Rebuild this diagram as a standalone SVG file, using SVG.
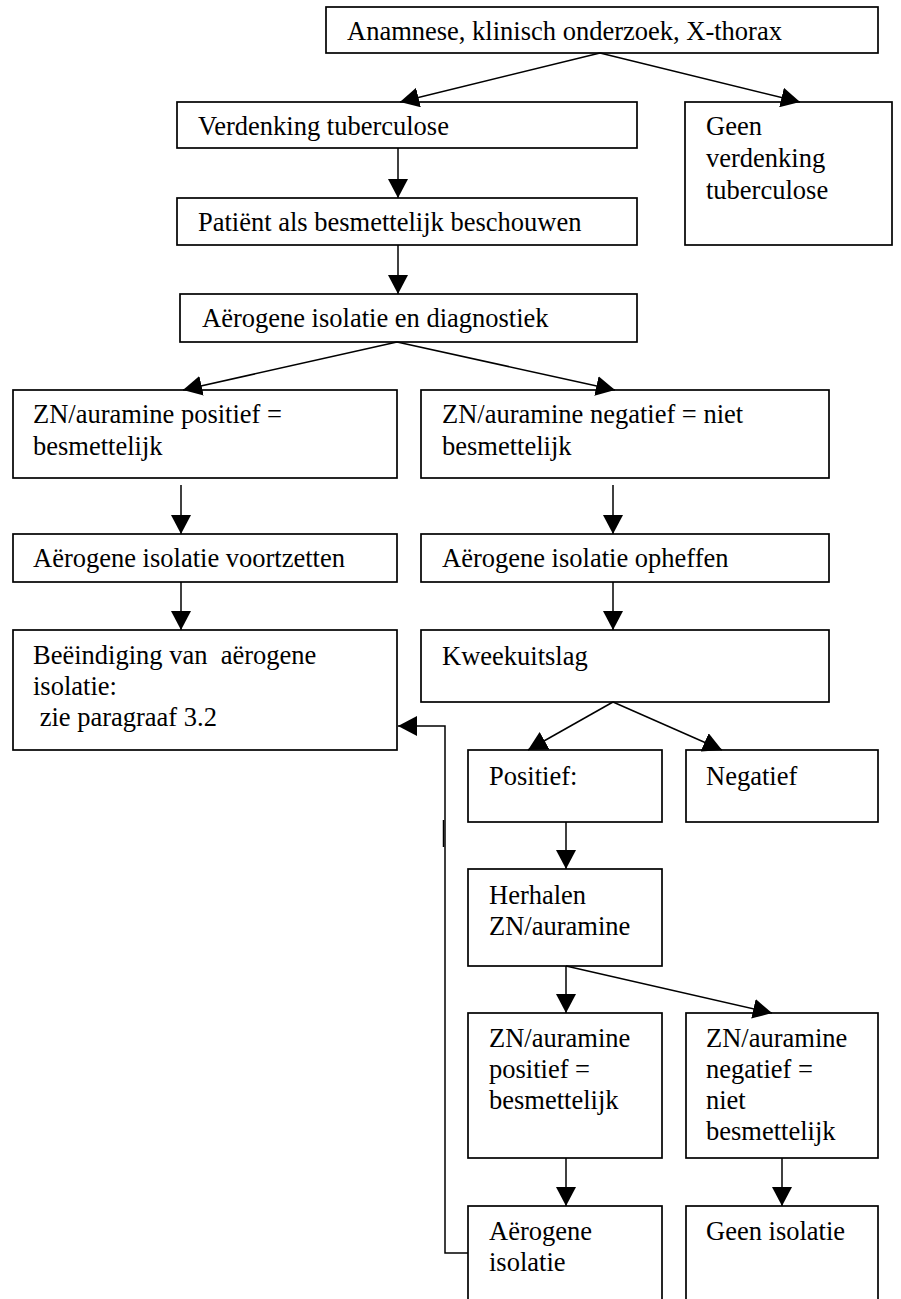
<svg xmlns="http://www.w3.org/2000/svg" width="901" height="1299" viewBox="0 0 901 1299">
<style>
rect{fill:#fff;stroke:#000;stroke-width:1.7}
text{font-family:"Liberation Serif","Times New Roman",serif;font-size:26.5px;fill:#000}
.c path{fill:none;stroke:#000;stroke-width:1.5}
</style>
<defs>
<marker id="ah" markerUnits="userSpaceOnUse" markerWidth="19" markerHeight="20" refX="19" refY="10" orient="auto"><path d="M0,0 L19,10 L0,20 z" fill="#000"/></marker>
</defs>
<rect x="0" y="0" width="901" height="1299" style="stroke:none"/>
<g id="n1"><rect x="326" y="7" width="552" height="46"/><text x="347" y="40">Anamnese, klinisch onderzoek, X-thorax</text></g>
<g id="n2"><rect x="177" y="102" width="460" height="46"/><text x="198" y="135">Verdenking tuberculose</text></g>
<g id="n3"><rect x="685" y="102" width="207" height="143"/><text x="706" y="135">Geen</text><text x="706" y="167">verdenking</text><text x="706" y="199">tuberculose</text></g>
<g id="n4"><rect x="177" y="198" width="460" height="47"/><text x="198" y="231">Patiënt als besmettelijk beschouwen</text></g>
<g id="n5"><rect x="180" y="294" width="457" height="48"/><text x="202" y="327">Aërogene isolatie en diagnostiek</text></g>
<g id="n6"><rect x="13" y="390" width="384" height="88"/><text x="33" y="423">ZN/auramine positief =</text><text x="33" y="455">besmettelijk</text></g>
<g id="n7"><rect x="421" y="390" width="408" height="88"/><text x="442" y="423">ZN/auramine negatief = niet</text><text x="442" y="455">besmettelijk</text></g>
<g id="n8"><rect x="13" y="534" width="384" height="48"/><text x="33" y="567">Aërogene isolatie voortzetten</text></g>
<g id="n9"><rect x="421" y="534" width="408" height="48"/><text x="442" y="567">Aërogene isolatie opheffen</text></g>
<g id="n10"><rect x="13" y="630" width="384" height="120"/><text x="33" y="664" xml:space="preserve">Beëindiging van  aërogene</text><text x="33" y="695">isolatie:</text><text x="33" y="726" xml:space="preserve"> zie paragraaf 3.2</text></g>
<g id="n11"><rect x="421" y="630" width="408" height="72"/><text x="442" y="665">Kweekuitslag</text></g>
<g id="n12"><rect x="468" y="750" width="194" height="72"/><text x="489" y="785">Positief:</text></g>
<g id="n13"><rect x="686" y="750" width="192" height="72"/><text x="706" y="785">Negatief</text></g>
<g id="n14"><rect x="468" y="869" width="194" height="97"/><text x="489" y="904">Herhalen</text><text x="489" y="935">ZN/auramine</text></g>
<g id="n15"><rect x="468" y="1013" width="194" height="145"/><text x="489" y="1047">ZN/auramine</text><text x="489" y="1078">positief =</text><text x="489" y="1109">besmettelijk</text></g>
<g id="n16"><rect x="686" y="1013" width="192" height="145"/><text x="706" y="1047">ZN/auramine</text><text x="706" y="1078">negatief =</text><text x="706" y="1109">niet</text><text x="706" y="1140">besmettelijk</text></g>
<g id="n17"><rect x="468" y="1206" width="194" height="110"/><text x="489" y="1240">Aërogene</text><text x="489" y="1271">isolatie</text></g>
<g id="n18"><rect x="686" y="1206" width="192" height="110"/><text x="706" y="1240">Geen isolatie</text></g>
<g id="connectors" class="c">
<path d="M600,53 L400,102" marker-end="url(#ah)"/>
<path d="M600,53 L800,102" marker-end="url(#ah)"/>
<path d="M398,148 V198" marker-end="url(#ah)"/>
<path d="M398,245 V294" marker-end="url(#ah)"/>
<path d="M397,342 L183,390" marker-end="url(#ah)"/>
<path d="M397,342 L615,390" marker-end="url(#ah)"/>
<path d="M181,485 V534" marker-end="url(#ah)"/>
<path d="M181,582 V630" marker-end="url(#ah)"/>
<path d="M613,485 V534" marker-end="url(#ah)"/>
<path d="M613,582 V630" marker-end="url(#ah)"/>
<path d="M613,702 L528,750" marker-end="url(#ah)"/>
<path d="M613,702 L722,750" marker-end="url(#ah)"/>
<path d="M566,822 V869" marker-end="url(#ah)"/>
<path d="M566,966 V1013" marker-end="url(#ah)"/>
<path d="M566,966 L772,1013" marker-end="url(#ah)"/>
<path d="M566,1158 V1206" marker-end="url(#ah)"/>
<path d="M782,1158 V1206" marker-end="url(#ah)"/>
<path d="M468,1253 H445 V726 H398" marker-end="url(#ah)"/>
<path d="M443.5,820 V847"/>
</g>
</svg>
